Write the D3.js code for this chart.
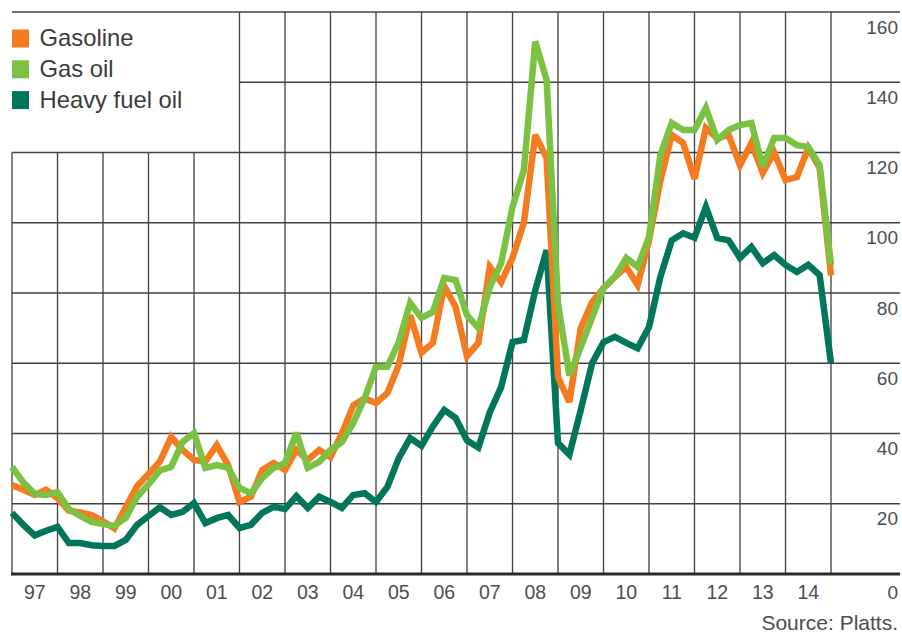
<!DOCTYPE html>
<html><head><meta charset="utf-8">
<script src="https://cdn.jsdelivr.net/npm/d3@7"></script>
<style>html,body{margin:0;padding:0;background:#fff;} svg{display:block;font-family:"Liberation Sans",Arial,Helvetica,sans-serif;}</style>
</head><body><svg id="c" width="902" height="634"></svg>
<script>
// Year labels (1997 - 2014), quarterly data points from start of 1997 to start of 2015
const yearLabels = ["97","98","99","00","01","02","03","04","05","06","07","08","09","10","11","12","13","14"];
const yTicks = [0,20,40,60,80,100,120,140,160];
const seriesNames = ["Gasoline","Gas oil","Heavy fuel oil"];
const seriesColors = ["#f47b20","#7cc242","#00765a"];

const gasoline = [25.3,24,22.5,24,21.6,18,17.5,16.8,15,13,19,25,28.5,32,39,35.3,32.5,32,36.7,31,
  20.5,22,29.6,31.6,29.6,35.3,32.5,35.3,33.3,40,48,50,48.7,51.5,59.5,73.7,63,65.8,82,76,
  62,65.8,87.4,83.1,90,100,125,118.4,56,49,70,77.4,81.4,84.6,87.4,82.3,95,112,125,122.7,
  112.5,127,124,125,116.4,122.7,114.2,120,112.2,113,121.3,115.6,85];
const gasOil = [30.5,26,22.8,22.5,23.3,18.5,16.5,14.8,14.2,13.7,16,22,25.5,29.5,30.5,37.6,40.1,30.2,31,30.2,
  24.5,23,27.3,30.2,31.6,40.2,30.2,31.9,35.3,37.6,43,50,59,59,66,77.2,72.9,74.6,84.3,83.7,
  73.7,70,81.7,88.5,104.5,115,151.6,140.6,77,56.5,64.6,73,81.4,84.6,90,87.4,96,119.3,128.4,126.4,
  126.4,132.7,123.6,126.4,127.8,128.4,116,124.1,124.1,122.1,121.6,116.4,88];
const heavyFuelOil = [17.4,14,11,12.3,13.4,8.8,8.8,8.2,8,8,9.7,14,16.5,19,16.8,17.7,20.2,14.5,15.9,16.8,
  13.1,14,17.4,19.1,18.5,22.2,18.8,22,20.5,18.8,22.5,23,20.5,24.8,33,38.7,36.5,42,46.7,44.4,
  38,36,46,53.2,66,66.6,80.8,92.2,37.3,34,46.7,60,66,67.5,65.8,64.3,70.3,84.6,95,97,
  95.7,104.5,95.7,95,90,93.1,88.5,90.8,88,86,88,85.1,60];

const svg = d3.select("#c");
const x = d3.scaleLinear().domain([0, 72]).range([12, 831]);
const y = d3.scaleLinear().domain([0, 160]).range([574, 12]);
const gridColor = "#404040";
const textColor = "#4d4d4d";

// vertical gridlines at year boundaries
const g = svg.append("g");
d3.range(0, 19).forEach(k => {
  const top = (k <= 4) ? y(120) : y(160);
  g.append("line").attr("x1", x(4*k)).attr("x2", x(4*k))
    .attr("y1", top).attr("y2", y(0))
    .attr("stroke", gridColor).attr("stroke-width", 1.3);
});
// horizontal gridlines
yTicks.forEach(v => {
  if (v === 0) return;
  const x1 = (v === 140) ? x(20) : x(0);
  g.append("line").attr("x1", x1).attr("x2", 900)
    .attr("y1", y(v)).attr("y2", y(v))
    .attr("stroke", gridColor).attr("stroke-width", 1.3);
});

// lines
const line = d3.line().x((d, i) => x(i)).y(d => y(d));
const data = [heavyFuelOil, gasoline, gasOil];
const cols = [seriesColors[2], seriesColors[0], seriesColors[1]];
data.forEach((s, j) => {
  svg.append("path").datum(s).attr("d", line)
    .attr("fill", "none").attr("stroke", cols[j]).attr("stroke-width", 6.5)
    .attr("stroke-linejoin", "miter").attr("stroke-miterlimit", 3);
});

// baseline
svg.append("line").attr("x1", x(0) - 1).attr("x2", 900).attr("y1", y(0)).attr("y2", y(0))
  .attr("stroke", "#2a2a2a").attr("stroke-width", 2.8);

// y labels
svg.append("g").selectAll("text").data(yTicks).join("text")
  .attr("x", 898).attr("y", d => d === 0 ? 599 : y(d) + 21.5)
  .attr("text-anchor", "end").attr("font-size", 19).attr("fill", textColor)
  .text(d => d);

// x labels
svg.append("g").selectAll("text").data(yearLabels).join("text")
  .attr("x", (d, i) => x(4*i + 2)).attr("y", 599)
  .attr("text-anchor", "middle").attr("font-size", 19.5).attr("fill", textColor)
  .text(d => d);

// legend
const leg = svg.append("g");
seriesNames.forEach((n, i) => {
  const yy = 29.5 + i * 30.8;
  leg.append("rect").attr("x", 12).attr("y", yy).attr("width", 17).attr("height", 18)
    .attr("fill", seriesColors[i]);
  leg.append("text").attr("x", 39.5).attr("y", yy + 16.8)
    .attr("font-size", 23.8).attr("fill", "#3a3a3a").text(n);
});

// source
svg.append("text").attr("x", 898).attr("y", 630).attr("text-anchor", "end")
  .attr("font-size", 21).attr("fill", textColor).text("Source: Platts.");
</script></body></html>
